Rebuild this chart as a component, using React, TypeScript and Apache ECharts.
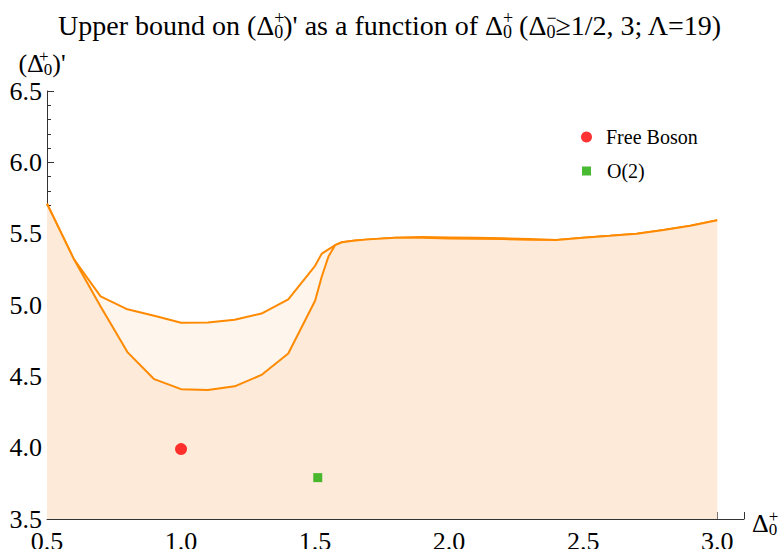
import React, { useEffect, useRef } from "react";
import * as echarts from "echarts";

const upperX = [0.5, 0.6, 0.7, 0.8, 0.9, 1.0, 1.1, 1.2, 1.3, 1.4, 1.5, 1.525, 1.575, 1.6, 1.65, 1.7, 1.8, 1.9, 2.0, 2.1, 2.2, 2.3, 2.4, 2.5, 2.6, 2.7, 2.8, 2.9, 3.0];
const upperY = [5.71, 5.322, 5.06, 4.97, 4.925, 4.876, 4.878, 4.897, 4.94, 5.04, 5.275, 5.36, 5.42, 5.44, 5.452, 5.46, 5.472, 5.476, 5.474, 5.471, 5.468, 5.462, 5.455, 5.472, 5.485, 5.5, 5.525, 5.555, 5.594];

const lowerX = [0.5, 0.6, 0.7, 0.8, 0.9, 1.0, 1.1, 1.2, 1.3, 1.4, 1.5, 1.525, 1.55, 1.575, 1.6, 1.65, 1.7, 1.8, 1.9, 2.0, 2.1, 2.2, 2.3, 2.4, 2.5, 2.6, 2.7, 2.8, 2.9, 3.0];
const lowerY = [5.71, 5.322, 4.99, 4.67, 4.48, 4.41, 4.404, 4.43, 4.51, 4.66, 5.03, 5.2, 5.34, 5.42, 5.44, 5.452, 5.46, 5.472, 5.472, 5.466, 5.464, 5.462, 5.458, 5.455, 5.472, 5.485, 5.5, 5.525, 5.555, 5.594];

const freeBoson = [[1.0, 3.99]];
const o2 = [[1.51, 3.79]];

const xTicks = { min: 0.5, max: 3.1, interval: 0.5 };
const yTicks = { min: 3.5, max: 6.5, interval: 0.5 };

const FONT = "Liberation Serif, serif";
const ORANGE = "#FF8A00";

const richStyles = (main: number, small: number, lh: number) => ({
  m: { fontFamily: FONT, fontSize: main, lineHeight: lh, color: "#000" },
  sup: { fontFamily: FONT, fontSize: small, lineHeight: 16, verticalAlign: "top", width: 0, align: "left", color: "#000" },
  sub: { fontFamily: FONT, fontSize: small, lineHeight: 16, verticalAlign: "bottom", color: "#000" },
});

export default function App() {
  const ref = useRef<HTMLDivElement>(null);
  useEffect(() => {
    if (!ref.current) return;
    const chart = echarts.init(ref.current, null, { renderer: "svg" });
    const pairs = (xs: number[], ys: number[]) => xs.map((x, i) => [x, ys[i]]);
    chart.setOption({
      animation: false,
      backgroundColor: "#fff",
      textStyle: { fontFamily: FONT },
      title: {
        text: "Upper bound on (Δ{sup|+}{sub|0})' as a function of Δ{sup|+}{sub|0} (Δ{sup|−}{sub|0}≥1/2, 3; Λ=19)",
        left: 58,
        top: 9,
        padding: 0,
        textAlign: "left",
        textStyle: {
          fontFamily: FONT,
          fontSize: 28,
          fontWeight: "normal",
          color: "#000",
          lineHeight: 32,
          rich: richStyles(28, 18, 32),
        },
      },
      legend: [
        {
          data: [{ name: "Free Boson", icon: "circle" }],
          left: 581,
          top: 127,
          padding: 0,
          itemWidth: 11,
          itemHeight: 11,
          selectedMode: false,
          textStyle: { fontFamily: FONT, fontSize: 20, color: "#000", padding: [0, 0, 0, 9] },
        },
        {
          data: [{ name: "O(2)", icon: "rect" }],
          left: 582,
          top: 161,
          padding: 0,
          itemWidth: 9,
          itemHeight: 9,
          selectedMode: false,
          textStyle: { fontFamily: FONT, fontSize: 20, color: "#000", padding: [0, 0, 0, 11] },
        },
      ],
      grid: { left: 47, right: 37, top: 91, bottom: 30, containLabel: false, outerBoundsMode: "none" },
      xAxis: {
        type: "value",
        min: xTicks.min,
        max: xTicks.max,
        interval: xTicks.interval,
        name: "Δ{sup|+}{sub|0}",
        nameLocation: "end",
        nameGap: 8,
        nameTextStyle: {
          fontFamily: FONT,
          fontSize: 26,
          color: "#000",
          lineHeight: 30,
          padding: [8, 0, 0, 0],
          rich: richStyles(26, 17, 30),
        },
        axisLine: { show: true, lineStyle: { color: "#333", width: 1 } },
        axisTick: { show: true, inside: true, length: 7, lineStyle: { color: "#333" } },
        minorTick: { show: true, splitNumber: 5, length: 4, lineStyle: { color: "#333" } },
        splitLine: { show: false },
        axisLabel: {
          fontFamily: FONT,
          fontSize: 26,
          color: "#000",
          margin: 9,
          formatter: (v: number) => (Math.abs(v - 3.1) < 1e-6 ? "" : v.toFixed(1)),
        },
      },
      yAxis: {
        type: "value",
        min: yTicks.min,
        max: yTicks.max,
        interval: yTicks.interval,
        name: "(Δ{sup|+}{sub|0})'",
        nameLocation: "end",
        nameGap: 1,
        nameTextStyle: {
          fontFamily: FONT,
          fontSize: 26,
          color: "#000",
          lineHeight: 30,
          padding: [0, 10, 0, 0],
          rich: richStyles(26, 17, 30),
        },
        axisLine: { show: true, lineStyle: { color: "#333", width: 1 } },
        axisTick: { show: true, inside: true, length: 7, lineStyle: { color: "#333" } },
        minorTick: { show: true, splitNumber: 5, length: 4, lineStyle: { color: "#333" } },
        splitLine: { show: false },
        axisLabel: {
          fontFamily: FONT,
          fontSize: 26,
          color: "#000",
          margin: 5,
          formatter: (v: number) => v.toFixed(1),
        },
      },
      series: [
        {
          name: "upper",
          type: "line",
          data: pairs(upperX, upperY),
          symbol: "none",
          z: 2,
          lineStyle: { color: ORANGE, width: 2 },
          itemStyle: { color: ORANGE },
          areaStyle: { color: "#FEF5EC", opacity: 1, origin: "start" },
        },
        {
          name: "lower",
          type: "line",
          data: pairs(lowerX, lowerY),
          symbol: "none",
          z: 3,
          lineStyle: { color: ORANGE, width: 2 },
          itemStyle: { color: ORANGE },
          areaStyle: { color: "#FDEAD8", opacity: 1, origin: "start" },
        },
        {
          name: "Free Boson",
          type: "scatter",
          data: freeBoson,
          symbol: "circle",
          symbolSize: 12,
          z: 5,
          itemStyle: { color: "#FF0000" },
        },
        {
          name: "O(2)",
          type: "scatter",
          data: o2,
          symbol: "rect",
          symbolSize: 9,
          z: 5,
          itemStyle: { color: "#1AAA00" },
        },
      ],
    });
    return () => chart.dispose();
  }, []);
  return <div ref={ref} style={{ width: 781, height: 549, position: "fixed", left: 0, top: 0 }} />;
}
